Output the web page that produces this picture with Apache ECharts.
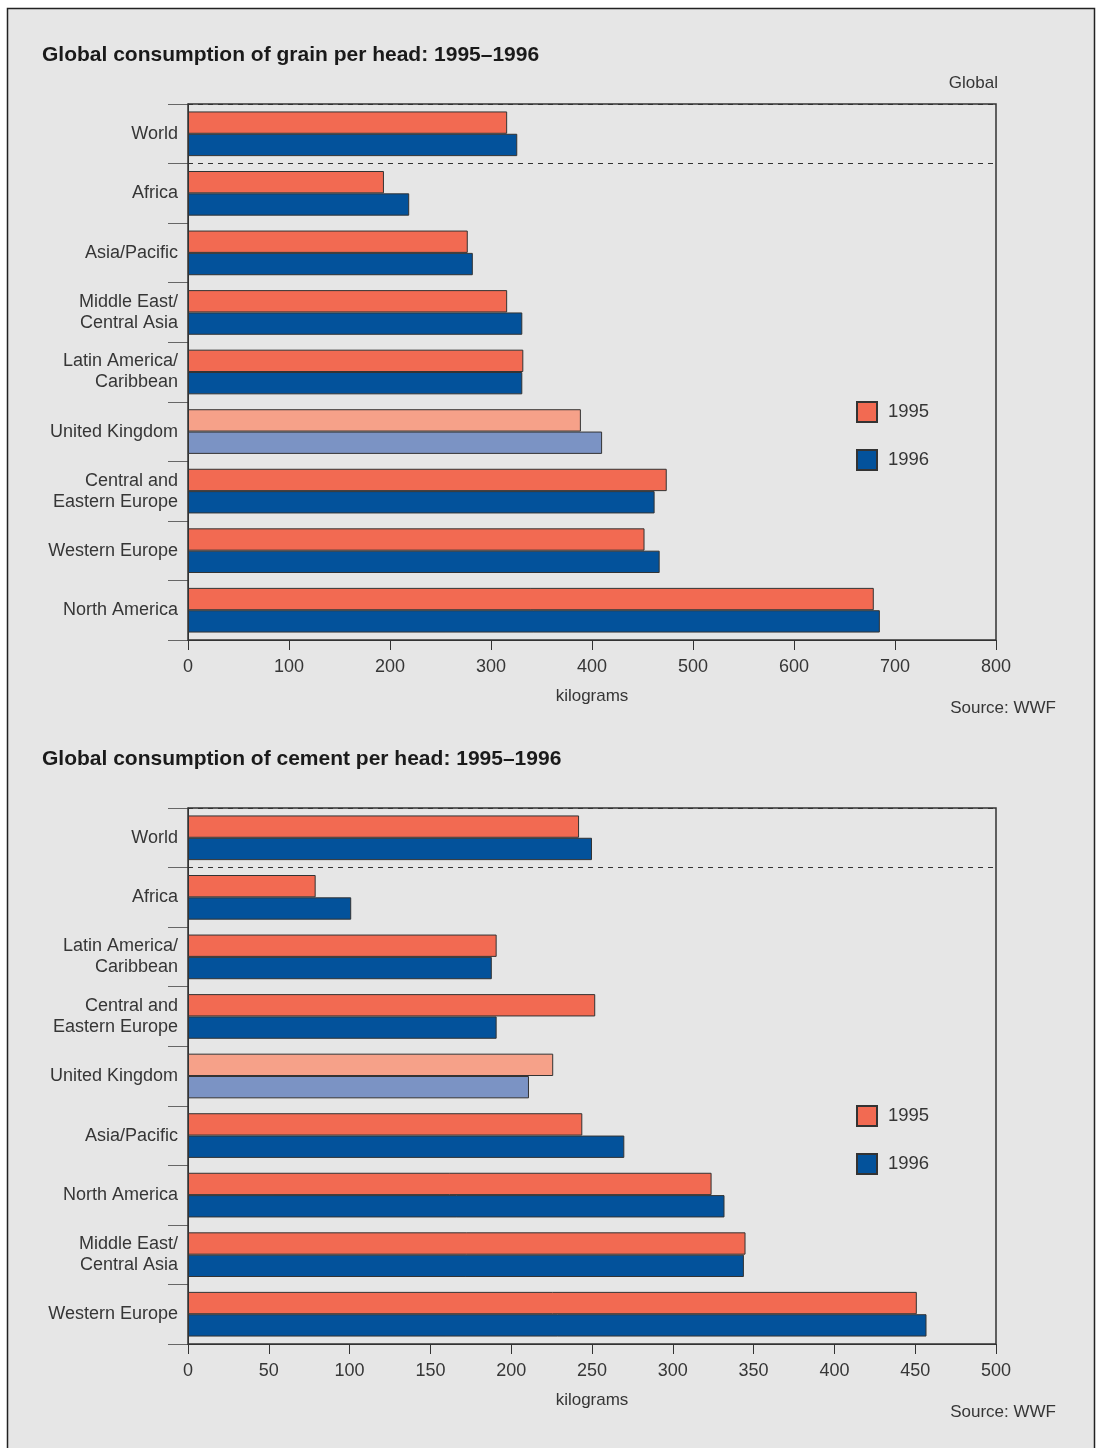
<!DOCTYPE html>
<html>
<head>
<meta charset="utf-8">
<script src="https://cdn.jsdelivr.net/npm/echarts@6/dist/echarts.min.js"></script>
<style>
  html, body { margin: 0; padding: 0; background: #ffffff; }
  #chart { position: absolute; left: 0; top: 0; width: 1096px; height: 1448px; }
</style>
</head>
<body>
<div id="chart"></div>
<script>
// Grain consumption per head (kg)
const grainCategories = ['World', 'Africa', 'Asia/Pacific', 'Middle East/\nCentral Asia', 'Latin America/\nCaribbean',
  'United Kingdom', 'Central and\nEastern Europe', 'Western Europe', 'North America'];
const grain1995 = [316, 194, 277, 316, 332, 389, 474, 452, 679];
const grain1996 = [326, 219, 282, 331, 331, 410, 462, 467, 685];
const grainTicks = [0, 800, 100];

// Cement consumption per head (kg)
const cementCategories = ['World', 'Africa', 'Latin America/\nCaribbean', 'Central and\nEastern Europe', 'United Kingdom',
  'Asia/Pacific', 'North America', 'Middle East/\nCentral Asia', 'Western Europe'];
const cement1995 = [242, 79, 191, 252, 226, 244, 324, 345, 451];
const cement1996 = [250, 101, 188, 191, 211, 270, 332, 344, 457];
const cementTicks = [0, 500, 50];

const seriesNames = ['1995', '1996'];
const highlighted = 'United Kingdom';
// the World row is set apart from the regional rows by a dashed rule
const dividerAfter = 'World';

const FONT = '"Liberation Sans", Arial, sans-serif';
const TEXT = '#363636';
const C95 = '#f26a52', C96 = '#03529b';
const C95_UK = '#f6a189', C96_UK = '#7b93c4';

function barData(values, cats, light) {
  return values.map((v, i) => cats[i] === highlighted
    ? { value: v, itemStyle: { color: light } }
    : v);
}

function yAxisFor(gridIndex, cats) {
  // split lines sit on category boundaries; keeping the top edge in the set
  // lets the boundary below the World row take its true position
  const boundary = cats.indexOf(dividerAfter) + 1;
  return {
    type: 'category', gridIndex, data: cats, inverse: true, z: -1,
    axisLine: { show: true, lineStyle: { color: '#333', width: 1 } },
    axisTick: { show: true, length: 20, lineStyle: { color: '#666', width: 1 } },
    axisLabel: { margin: 10, fontFamily: FONT, fontSize: 18, color: TEXT, lineHeight: 21 },
    splitLine: { show: true, interval: (i) => i <= boundary, lineStyle: { color: '#333', type: [5, 5], width: 1 } }
  };
}

function xAxisFor(gridIndex, ticks) {
  return {
    type: 'value', gridIndex, min: ticks[0], max: ticks[1], interval: ticks[2],
    name: 'kilograms', nameLocation: 'middle', nameGap: 48,
    nameTextStyle: { fontFamily: FONT, fontSize: 17, color: TEXT },
    axisLine: { show: true, lineStyle: { color: '#333', width: 1 } },
    axisTick: { show: true, length: 10, lineStyle: { color: '#333' } },
    axisLabel: { margin: 18, fontFamily: FONT, fontSize: 18, color: TEXT },
    splitLine: { show: false }
  };
}

function barSeries(name, idx, values, cats, base, light) {
  return {
    type: 'bar', name, xAxisIndex: idx, yAxisIndex: idx,
    data: barData(values, cats, light),
    barGap: '0%', barCategoryGap: '25%',
    itemStyle: { color: base, borderColor: '#333', borderWidth: 1 },
    emphasis: { disabled: true }, animation: false
  };
}

function legendFor(top) {
  return {
    data: seriesNames, orient: 'vertical', left: 856, top, padding: 0,
    itemWidth: 20, itemHeight: 20, itemGap: 26, icon: 'rect',
    textStyle: { fontFamily: FONT, fontSize: 18.5, color: TEXT, padding: [0, 0, 0, 6] },
    selectedMode: false
  };
}

function txt(x, y, text, opts) {
  return {
    type: 'text', x, y, silent: true,
    style: Object.assign({ text, fontFamily: FONT, fontSize: 17, fill: TEXT, textVerticalAlign: 'middle' }, opts || {})
  };
}

const chart = echarts.init(document.getElementById('chart'), null, { renderer: 'canvas' });
chart.setOption({
  animation: false,
  backgroundColor: '#ffffff',
  grid: [
    { left: 188, top: 104, width: 808, height: 536, show: true, borderColor: '#333', borderWidth: 1.5, backgroundColor: 'transparent', containLabel: false },
    { left: 188, top: 808, width: 808, height: 536, show: true, borderColor: '#333', borderWidth: 1.5, backgroundColor: 'transparent', containLabel: false }
  ],
  xAxis: [xAxisFor(0, grainTicks), xAxisFor(1, cementTicks)],
  yAxis: [yAxisFor(0, grainCategories), yAxisFor(1, cementCategories)],
  legend: [legendFor(401), legendFor(1105)],
  series: [
    barSeries(seriesNames[0], 0, grain1995, grainCategories, C95, C95_UK),
    barSeries(seriesNames[1], 0, grain1996, grainCategories, C96, C96_UK),
    barSeries(seriesNames[0], 1, cement1995, cementCategories, C95, C95_UK),
    barSeries(seriesNames[1], 1, cement1996, cementCategories, C96, C96_UK)
  ],
  graphic: [
    { type: 'rect', z: -10, silent: true, shape: { x: 7.5, y: 8.5, width: 1087, height: 1460 },
      style: { fill: '#e6e6e6', stroke: '#222', lineWidth: 1.5 } },
    txt(42, 55, 'Global consumption of grain per head: 1995\u20131996', { fontWeight: 'bold', fontSize: 21, fill: '#1a1a1a' }),
    txt(998, 83, 'Global', { textAlign: 'right' }),
    txt(1056, 708, 'Source: WWF', { textAlign: 'right' }),
    txt(42, 759, 'Global consumption of cement per head: 1995\u20131996', { fontWeight: 'bold', fontSize: 21, fill: '#1a1a1a' }),
    txt(1056, 1412, 'Source: WWF', { textAlign: 'right' })
  ]
});
</script>
</body>
</html>
